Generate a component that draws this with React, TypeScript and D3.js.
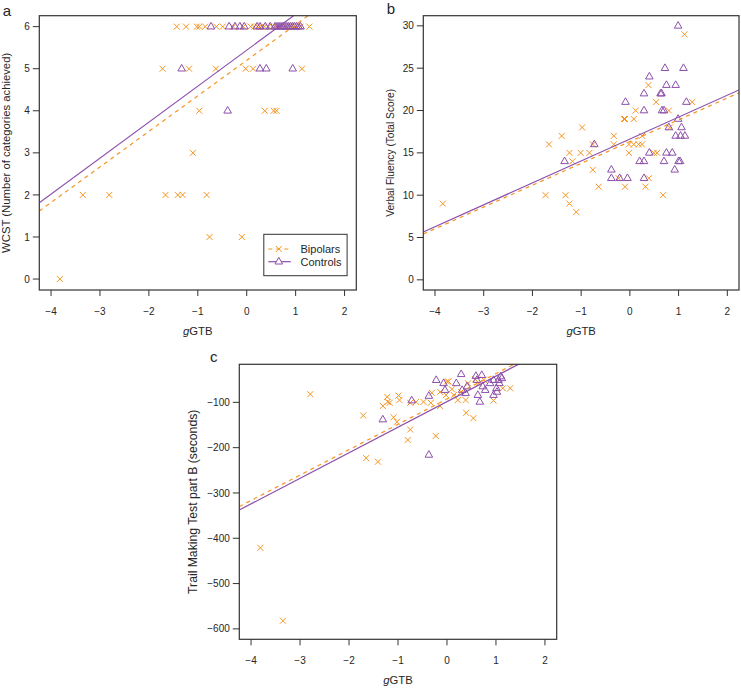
import React from 'react';
import * as d3 from 'd3';

const ORANGE = '#F7931E';
const PURPLE = '#8C4FAB';
const INK = '#262626';

const gtbTicks = [-4, -3, -2, -1, 0, 1, 2];
const gtbDomain: [number, number] = [-4.24, 2.24];

type Pt = [number, number];

// panel a: WCST categories
const wcstTicks = [0, 1, 2, 3, 4, 5, 6];
const wcstBipolars: Pt[] = [
  [-3.82, 0],
  [-0.76, 1], [-0.1, 1],
  [-3.35, 2], [-2.81, 2], [-1.66, 2], [-1.41, 2], [-1.31, 2], [-0.82, 2],
  [-1.1, 3],
  [-0.97, 4], [0.37, 4], [0.55, 4], [0.61, 4],
  [-1.72, 5], [-1.18, 5], [-0.63, 5], [-0.02, 5], [0.13, 5], [1.13, 5],
  [-1.43, 6], [-1.24, 6], [-1.02, 6], [-0.97, 6], [-0.85, 6], [-0.62, 6], [-0.49, 6],
  [-0.28, 6], [-0.07, 6], [0.08, 6], [0.15, 6], [0.22, 6], [0.3, 6], [0.36, 6],
  [0.44, 6], [0.52, 6], [0.6, 6], [0.68, 6], [0.8, 6], [0.9, 6], [1.0, 6], [1.1, 6], [1.28, 6],
];
const wcstControls: Pt[] = [
  [-0.39, 4],
  [-1.33, 5], [0.27, 5], [0.4, 5], [0.94, 5],
  [-0.73, 6], [-0.36, 6], [-0.24, 6], [-0.14, 6], [-0.05, 6], [0.21, 6], [0.27, 6],
  [0.38, 6], [0.48, 6], [0.58, 6], [0.62, 6], [0.66, 6], [0.7, 6], [0.74, 6], [0.78, 6],
  [0.82, 6], [0.86, 6], [0.9, 6], [0.94, 6], [0.98, 6], [1.02, 6], [1.06, 6], [1.1, 6],
];
// fits as [intercept, slope]
const wcstFitBipolars: Pt = [5.2, 0.845];
const wcstFitControls: Pt = [5.44, 0.855];

// panel b: verbal fluency
const fluencyTicks = [0, 5, 10, 15, 20, 25, 30];
const fluencyBipolars: Pt[] = [
  [-3.84, 9], [-1.73, 10], [-1.66, 16], [-1.4, 17], [-1.32, 10], [-1.24, 15], [-1.24, 9],
  [-1.18, 14], [-1.1, 8], [-1.01, 15], [-0.98, 18], [-0.83, 15], [-0.76, 16], [-0.76, 13],
  [-0.64, 11], [-0.33, 17], [-0.33, 16], [-0.23, 12], [-0.12, 19], [-0.1, 19], [-0.1, 11],
  [-0.02, 15], [-0.02, 16], [0.08, 19], [0.08, 16], [0.12, 20], [0.18, 16], [0.25, 16],
  [0.25, 17], [0.32, 11], [0.38, 23], [0.39, 12], [0.49, 15], [0.54, 21], [0.56, 15],
  [0.68, 10], [0.8, 20], [0.82, 18], [1.12, 29], [1.28, 21],
];
const fluencyControls: Pt[] = [
  [-1.34, 14], [-0.73, 16], [-0.38, 13], [-0.38, 12], [-0.21, 12], [-0.05, 12], [-0.09, 21],
  [0.2, 14], [0.29, 14], [0.29, 12], [0.29, 22], [0.29, 20], [0.4, 24], [0.4, 15],
  [0.63, 22], [0.65, 22], [0.66, 20], [0.7, 20], [0.7, 14], [0.72, 25], [0.75, 23],
  [0.75, 15], [0.8, 18], [0.87, 15], [0.94, 23], [0.92, 13], [0.94, 17], [0.99, 30],
  [0.99, 19], [1.0, 14], [1.03, 14], [1.06, 18], [1.04, 17], [1.1, 25], [1.13, 17], [1.16, 21],
];
const fluencyFitBipolars: Pt = [16.33, 2.575];
const fluencyFitControls: Pt = [16.63, 2.59];

// panel c: trail making B
const trailTicks = [-100, -200, -300, -400, -500, -600];
const trailBipolars: Pt[] = [
  [-3.81, -421], [-3.35, -582], [-2.79, -82], [-1.71, -129], [-1.65, -223], [-1.41, -231],
  [-1.31, -108], [-1.22, -88], [-1.21, -99], [-1.17, -101], [-1.09, -133], [-1.02, -143],
  [-0.99, -85], [-0.97, -95], [-0.8, -183], [-0.75, -160], [-0.75, -101], [-0.63, -99],
  [-0.48, -99], [-0.33, -101], [-0.31, -79], [-0.23, -174], [-0.14, -108], [-0.14, -77],
  [0.0, -54], [0.03, -54], [-0.02, -84], [0.1, -71], [0.14, -84], [0.22, -95], [0.29, -77],
  [0.39, -123], [0.38, -95], [0.43, -58], [0.54, -135], [0.58, -49], [0.65, -58],
  [0.75, -50], [0.95, -96], [1.14, -69], [1.29, -69],
];
const trailControls: Pt[] = [
  [-1.31, -138], [-0.72, -96], [-0.37, -216], [-0.37, -86], [-0.22, -51], [-0.07, -58],
  [-0.04, -73], [0.19, -58], [0.29, -38], [0.31, -73], [0.38, -80], [0.41, -65],
  [0.59, -42], [0.61, -51], [0.63, -84], [0.67, -99], [0.71, -40], [0.73, -65],
  [0.78, -73], [0.88, -58], [0.95, -51], [0.95, -84], [1.01, -69], [1.05, -51],
  [1.07, -58], [1.12, -47], [1.02, -77], [1.1, -43],
];
const trailFitBipolars: Pt = [-92.5, 56.0];
const trailFitControls: Pt = [-98.4, 56.4];

const crossPath = 'M-3,-3L3,3M-3,3L3,-3';
const triPath = 'M0,-4.3L3.8,2.3L-3.8,2.3Z';

interface PanelProps {
  id: string;
  letter: string;
  letterDx: number;
  letterY: number;
  left: number;
  top: number;
  width: number;
  height: number;
  yDomain: [number, number];
  yTicks: number[];
  yLabel: string;
  yLabelGap: number;
  yLabelSize: number;
  bipolars: Pt[];
  controls: Pt[];
  fitB: Pt;
  fitC: Pt;
  legend?: boolean;
}

const Panel: React.FC<PanelProps> = ({
  id, letter, letterDx, letterY, left, top, width, height, yDomain, yTicks, yLabel,
  yLabelGap, yLabelSize, bipolars, controls, fitB, fitC, legend,
}) => {
  const x = d3.scaleLinear().domain(gtbDomain).range([left, left + width]);
  const y = d3.scaleLinear().domain(yDomain).range([top + height, top]);
  const bottom = top + height;
  const fmt = d3.format('d');

  const fitLine = (fit: Pt) => {
    const [a, b] = fit;
    return d3.line<number>()
      .x(v => x(v))
      .y(v => y(a + b * v))(gtbDomain) || '';
  };

  return (
    <g>
      <defs>
        <clipPath id={`clip-${id}`}>
          <rect x={left} y={top} width={width} height={height} />
        </clipPath>
      </defs>
      <text x={left - letterDx} y={letterY} fontSize={15} fill={INK}>{letter}</text>

      {/* points */}
      {bipolars.map((d, i) => (
        <path key={`b${i}`} d={crossPath} transform={`translate(${x(d[0])},${y(d[1])})`}
          stroke={ORANGE} strokeWidth={1} fill="none" />
      ))}
      {controls.map((d, i) => (
        <path key={`c${i}`} d={triPath} transform={`translate(${x(d[0])},${y(d[1])})`}
          stroke={PURPLE} strokeWidth={1} fill="none" />
      ))}

      {/* regression lines */}
      <g clipPath={`url(#clip-${id})`}>
        <path d={fitLine(fitB)} stroke={ORANGE} strokeWidth={1.2} strokeDasharray="4,4" fill="none" />
        <path d={fitLine(fitC)} stroke={PURPLE} strokeWidth={1.2} fill="none" />
      </g>

      <rect x={left} y={top} width={width} height={height} fill="none" stroke="#333" strokeWidth={1.2} />

      {/* x axis */}
      {gtbTicks.map(t => (
        <g key={`xt${t}`}>
          <line x1={x(t)} x2={x(t)} y1={bottom} y2={bottom + 6} stroke="#333" strokeWidth={1} />
          <text x={x(t)} y={bottom + 25} fontSize={10} textAnchor="middle" fill={INK}>{fmt(t)}</text>
        </g>
      ))}
      <text x={left + width / 2} y={bottom + 44.5} fontSize={11.3} textAnchor="middle" fill={INK}>
        <tspan fontStyle="italic">g</tspan>GTB
      </text>

      {/* y axis */}
      {yTicks.map(t => (
        <g key={`yt${t}`}>
          <line x1={left - 6.5} x2={left} y1={y(t)} y2={y(t)} stroke="#333" strokeWidth={1} />
          <text x={left - 9.5} y={y(t) + 3.6} fontSize={10} textAnchor="end" fill={INK}>{fmt(t)}</text>
        </g>
      ))}
      <text transform={`translate(${left - yLabelGap},${top + height / 2}) rotate(-90)`}
        fontSize={yLabelSize} textAnchor="middle" fill={INK}>{yLabel}</text>

      {legend && (
        <g>
          <rect x={left + width - 92.5} y={bottom - 55.7} width={83.3} height={41.4}
            fill="white" stroke="#333" strokeWidth={1} />
          <line x1={left + width - 88} x2={left + width - 65.5} y1={bottom - 41} y2={bottom - 41}
            stroke={ORANGE} strokeWidth={1.2} strokeDasharray="4,4" />
          <path d={crossPath} transform={`translate(${left + width - 77.5},${bottom - 41})`}
            stroke={ORANGE} strokeWidth={1} fill="none" />
          <line x1={left + width - 88} x2={left + width - 65.5} y1={bottom - 28.3} y2={bottom - 28.3}
            stroke={PURPLE} strokeWidth={1.2} />
          <path d={triPath} transform={`translate(${left + width - 77.5},${bottom - 28.3})`}
            stroke={PURPLE} strokeWidth={1} fill="white" />
          <text x={left + width - 55.8} y={bottom - 37} fontSize={11} fill={INK}>Bipolars</text>
          <text x={left + width - 55.8} y={bottom - 24.3} fontSize={11} fill={INK}>Controls</text>
        </g>
      )}
    </g>
  );
};

export default function App() {
  return (
    <svg width={741} height={688}
      style={{ position: 'absolute', left: 0, top: 0, background: 'white', fontFamily: '"Liberation Sans", Arial, sans-serif' }}>
      <Panel id="a" letter="a" letterDx={36.6} letterY={16} left={39.3} top={15.7} width={317} height={274.3}
        yDomain={[-0.26, 6.26]} yTicks={wcstTicks} yLabel="WCST (Number of categories achieved)"
        yLabelGap={29} yLabelSize={11.3} bipolars={wcstBipolars} controls={wcstControls}
        fitB={wcstFitBipolars} fitC={wcstFitControls} legend />
      <Panel id="b" letter="b" letterDx={36.6} letterY={14} left={423.3} top={15.7} width={315.7} height={274.3}
        yDomain={[-1.2, 31.2]} yTicks={fluencyTicks} yLabel="Verbal Fluency (Total Score)"
        yLabelGap={29.3} yLabelSize={10.2} bipolars={fluencyBipolars} controls={fluencyControls}
        fitB={fluencyFitBipolars} fitC={fluencyFitControls} />
      <Panel id="c" letter="c" letterDx={29.3} letterY={362} left={239.3} top={364.3} width={317.4} height={275}
        yDomain={[-623, -16]} yTicks={trailTicks} yLabel="Trail Making Test part B (seconds)"
        yLabelGap={41.9} yLabelSize={12.2} bipolars={trailBipolars} controls={trailControls}
        fitB={trailFitBipolars} fitC={trailFitControls} />
    </svg>
  );
}
